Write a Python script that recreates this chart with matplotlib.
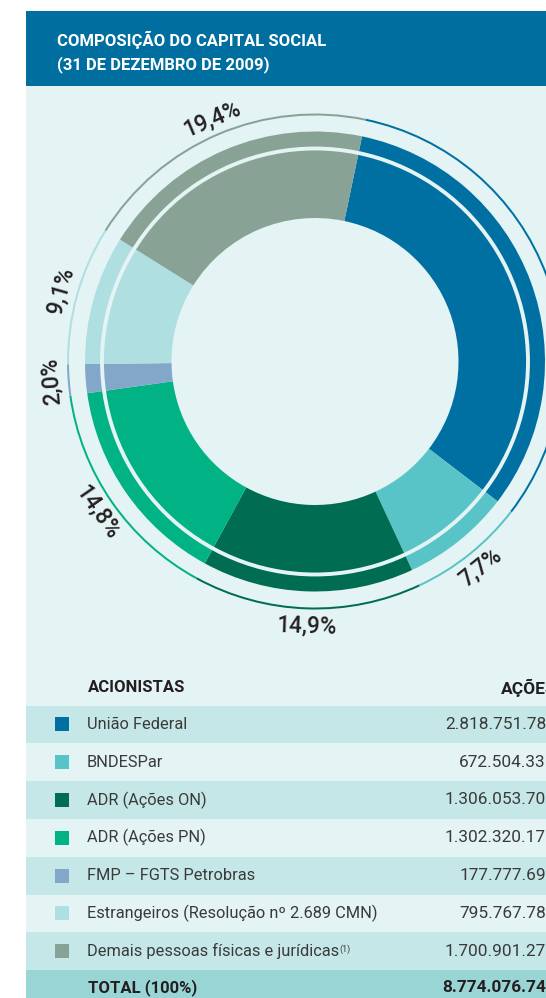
import matplotlib
matplotlib.use("Agg")
import matplotlib.pyplot as plt
from matplotlib.patches import Rectangle, Circle
import numpy as np

# --- data ---
acionistas = ["União Federal", "BNDESPar", "ADR (Ações ON)", "ADR (Ações PN)",
              "FMP – FGTS Petrobras", "Estrangeiros (Resolução nº 2.689 CMN)",
              "Demais pessoas físicas e jurídicas"]
# share counts as printed (last digit cut off by the page edge)
acoes_txt = ["2.818.751.78", "672.504.33", "1.306.053.70", "1.302.320.17",
             "177.777.69", "795.767.78", "1.700.901.27"]
total_txt = "8.774.076.740"
cores = ["#0070a2", "#58c4c7", "#006c52", "#00b284", "#82a7c9", "#b0dfe1", "#88a295"]

acoes = np.array([float(s.replace(".", "")) for s in acoes_txt])
pct = 100 * acoes / acoes.sum()
pct_txt = [("%.1f%%" % p).replace(".", ",") for p in pct]

# --- colours / fonts ---
bg = "#e4f3f3"
azul = "#006fa0"
linha_escura = "#c5e7e8"
linha_total = "#9ad5d6"
texto = "#231f20"
cinza = "#3a3a3a"
plt.rcParams["font.family"] = ["Roboto", "DejaVu Sans"]

W, H = 546, 998
fig = plt.figure(figsize=(W / 100, H / 100), dpi=100, facecolor="white")

# full page axes in pixel units
ax = fig.add_axes([0, 0, 1, 1])
ax.set_xlim(0, W)
ax.set_ylim(H, 0)
ax.axis("off")

ax.add_patch(Rectangle((26, 86), W - 26, H - 86, color=bg, lw=0))
ax.add_patch(Rectangle((26, 11), W - 26, 75, color=azul, lw=0))
ax.text(57, 46, "COMPOSIÇÃO DO CAPITAL SOCIAL", color="white", fontsize=12,
        fontweight="bold", va="baseline")
ax.text(57, 69, "(31 DE DEZEMBRO DE 2009)", color="white", fontsize=12,
        fontweight="bold", va="baseline")

# --- table ---
row_h = 37.8
top = 705.5
n = len(acionistas)
ys = top + row_h * (np.arange(n + 1) + 0.5)
row_cols = [linha_escura if i % 2 == 0 else bg for i in range(n)] + [linha_total]
ax.barh(ys, W - 26, left=26, height=row_h, color=row_cols, lw=0)

ax.text(88, 688, "ACIONISTAS", color=texto, fontsize=12, fontweight="bold", va="center")
ax.text(501, 688, "AÇÕES", color=texto, fontsize=12.5, fontweight="bold", va="center")

for i, (nome, val, c) in enumerate(zip(acionistas, acoes_txt, cores)):
    y = ys[i]
    ax.add_patch(Rectangle((55, y - 7), 14, 14, color=c, lw=0))
    t = ax.text(87, y, nome, color=cinza, fontsize=11.8, fontweight="normal", va="center")
    ax.text(546, y, val, color=cinza, fontsize=12.4, fontweight="normal",
            va="center", ha="right")
    if i == n - 1:
        ax.annotate("(1)", xy=(1, 1), xycoords=t, xytext=(0.5, -1),
                    textcoords="offset points", fontsize=6.5, color=cinza,
                    va="top", ha="left")

ax.text(88, ys[-1] - 1, "TOTAL (100%)", color=texto, fontsize=12,
        fontweight="bold", va="center")
ax.text(556, ys[-1] - 1, total_txt, color=texto, fontsize=12.4,
        fontweight="bold", va="center", ha="right")

# --- donut ---
cx, cy = 315, 361.5
R = 300
ax2 = fig.add_axes([(cx - R) / W, (H - cy - R) / H, 2 * R / W, 2 * R / H])
start = 90 - 11.8
wedges, _ = ax2.pie(acoes, radius=230, startangle=start, counterclock=False,
                    colors=cores, wedgeprops=dict(width=86.5, linewidth=0))
ax2.pie(acoes, radius=248, startangle=start, counterclock=False,
        colors=cores, wedgeprops=dict(width=2, linewidth=0))
ax2.add_patch(Circle((0, 0), 213, fill=False, ec=bg, lw=2.8))
ax2.set_xlim(-R, R)
ax2.set_ylim(-R, R)
ax2.axis("off")

for w, lab in zip(wedges, pct_txt):
    mid = (w.theta1 + w.theta2) / 2
    cw = (90 - mid) % 360
    rot = mid - 90
    if 90 < cw < 250:
        rot += 180
    r = 264
    ax2.text(r * np.cos(np.radians(mid)), r * np.sin(np.radians(mid)), lab,
             rotation=rot, rotation_mode="anchor", ha="center", va="center",
             fontsize=16.3, fontweight="medium", color=texto, clip_on=False)

fig.savefig("out.png", dpi=100, facecolor="white")
